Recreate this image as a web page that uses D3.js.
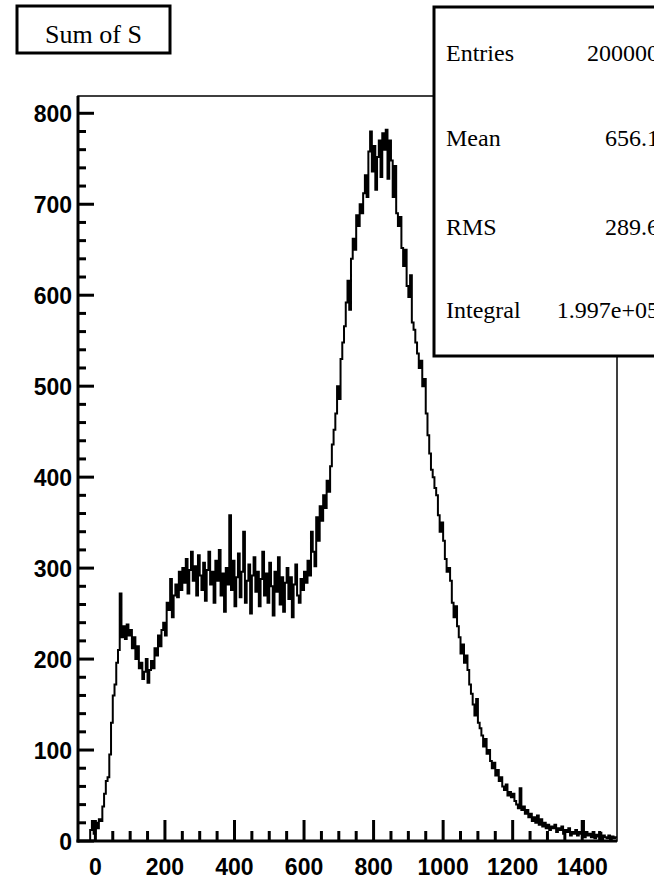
<!DOCTYPE html>
<html>
<head>
<meta charset="utf-8">
<script src="https://cdn.jsdelivr.net/npm/d3@7"></script>
<style>
  html, body { margin: 0; padding: 0; background: #fff; }
  svg { display: block; }
</style>
</head>
<body>
<script>
// ---- data ----
const titleText = "Sum of S";
const binLow = -50;
const binWidth = 5;
const counts = [
  0,0,0,0,0,0,0,12,22,8,
  20,14,24,22,38,52,66,70,95,130,
  160,172,196,210,272,224,236,222,238,226,
  232,212,224,200,214,190,196,178,186,200,
  174,188,198,190,212,204,226,214,232,240,
  226,262,254,288,246,270,282,268,296,276,
  300,284,310,272,298,318,286,302,270,314,
  292,276,306,264,298,318,282,296,262,308,
  286,320,270,294,252,300,282,358,276,308,
  258,290,316,268,296,340,262,286,304,250,
  292,312,274,296,258,288,318,270,294,262,
  306,280,248,296,274,312,260,290,252,284,
  300,266,290,246,282,304,270,262,288,276,
  296,284,308,292,340,318,302,356,330,368,
  352,380,366,396,384,412,436,452,470,500,
  486,530,548,566,592,616,584,640,662,650,
  688,676,700,690,712,732,708,758,780,736,
  764,716,752,770,730,778,760,782,728,770,
  748,708,742,690,676,686,652,632,650,610,
  598,622,570,562,548,536,520,528,500,508,
  470,446,426,408,400,388,380,358,340,350,
  330,310,296,300,286,262,246,258,236,224,
  206,216,196,204,188,172,162,150,138,156,
  130,124,116,104,112,96,100,88,80,86,
  72,78,66,70,60,56,62,50,54,48,
  52,44,40,36,58,34,38,30,34,26,
  30,22,26,20,28,18,24,16,20,14,
  18,12,16,14,18,10,14,12,16,8,
  12,10,14,6,10,8,12,6,10,8,
  22,4,10,6,8,4,10,3,7,5,
  9,2,6,4,3,6,2,5,3,4
];
const xDomain = [-50, 1500];
const yDomain = [0, 819];
const xMajorTicks = [0, 200, 400, 600, 800, 1000, 1200, 1400];
const xMinorTicks = [50, 100, 150, 250, 300, 350, 450, 500, 550, 650, 700, 750, 850, 900, 950, 1050, 1100, 1150, 1250, 1300, 1350, 1450];
const yMajorTicks = [0, 100, 200, 300, 400, 500, 600, 700, 800];
const yMinorTicks = [20, 40, 60, 80, 120, 140, 160, 180, 220, 240, 260, 280, 320, 340, 360, 380, 420, 440, 460, 480, 520, 540, 560, 580, 620, 640, 660, 680, 720, 740, 760, 780];
const statLabels = ["Entries", "Mean", "RMS", "Integral"];
const statValues = ["200000", "656.1", "289.6", "1.997e+05"];

// ---- layout ----
const W = 654, H = 881;
const plot = { left: 78, right: 617, top: 96, bottom: 841 };

const svg = d3.select("body").append("svg")
  .attr("width", W).attr("height", H);

const x = d3.scaleLinear().domain(xDomain).range([plot.left, plot.right]);
const y = d3.scaleLinear().domain(yDomain).range([plot.bottom, plot.top]);

// frame (thin top / right)
svg.append("rect")
  .attr("x", plot.left).attr("y", plot.top)
  .attr("width", plot.right - plot.left).attr("height", plot.bottom - plot.top)
  .attr("fill", "none").attr("stroke", "#000").attr("stroke-width", 1.5);

// histogram step outline
const pts = [];
counts.forEach((c, i) => {
  const x0 = binLow + i * binWidth;
  pts.push([x0, c]);
  pts.push([x0 + binWidth, c]);
});
const line = d3.line().x(d => x(d[0])).y(d => y(d[1]));
svg.append("path")
  .attr("d", line(pts))
  .attr("fill", "none")
  .attr("stroke", "#000")
  .attr("stroke-width", 2)
  .attr("stroke-linejoin", "miter");

// axes (thick)
const axisG = svg.append("g").attr("stroke", "#000").attr("stroke-width", 3);
axisG.append("line")
  .attr("x1", plot.left).attr("x2", plot.left)
  .attr("y1", plot.top).attr("y2", plot.bottom + 1.5);
axisG.append("line")
  .attr("x1", plot.left - 1.5).attr("x2", plot.right)
  .attr("y1", plot.bottom).attr("y2", plot.bottom);

// x ticks
axisG.selectAll(".xmaj").data(xMajorTicks).enter().append("line")
  .attr("x1", d => x(d)).attr("x2", d => x(d))
  .attr("y1", plot.bottom).attr("y2", plot.bottom - 21);
axisG.selectAll(".xmin").data(xMinorTicks).enter().append("line")
  .attr("x1", d => x(d)).attr("x2", d => x(d))
  .attr("y1", plot.bottom).attr("y2", plot.bottom - 10);
// y ticks
axisG.selectAll(".ymaj").data(yMajorTicks).enter().append("line")
  .attr("y1", d => y(d)).attr("y2", d => y(d))
  .attr("x1", plot.left).attr("x2", plot.left + 16);
axisG.selectAll(".ymin").data(yMinorTicks).enter().append("line")
  .attr("y1", d => y(d)).attr("y2", d => y(d))
  .attr("x1", plot.left).attr("x2", plot.left + 8);

// tick labels
const tickFont = "'Liberation Sans', Arial, Helvetica, sans-serif";
svg.selectAll(".xl").data(xMajorTicks).enter().append("text")
  .attr("x", d => x(d)).attr("y", 875)
  .attr("text-anchor", "middle")
  .attr("font-family", tickFont).attr("font-weight", "bold").attr("font-size", 23)
  .text(d => d);
svg.selectAll(".yl").data(yMajorTicks).enter().append("text")
  .attr("x", 72).attr("y", d => y(d) + 9)
  .attr("text-anchor", "end")
  .attr("font-family", tickFont).attr("font-weight", "bold").attr("font-size", 23)
  .text(d => d);

// stats box
const serif = "'Liberation Serif', 'Times New Roman', Times, serif";
svg.append("rect")
  .attr("x", 434).attr("y", 7).attr("width", 240).attr("height", 349)
  .attr("fill", "#fff").attr("stroke", "#000").attr("stroke-width", 3);
const statY = [61, 146, 235, 318];
statLabels.forEach((lab, i) => {
  svg.append("text").attr("x", 446).attr("y", statY[i])
    .attr("font-family", serif).attr("font-size", 24).text(lab);
  svg.append("text").attr("x", 659).attr("y", statY[i])
    .attr("text-anchor", "end")
    .attr("font-family", serif).attr("font-size", 24).text(statValues[i]);
});

// title box
svg.append("rect")
  .attr("x", 17).attr("y", 6).attr("width", 153).attr("height", 47)
  .attr("fill", "#fff").attr("stroke", "#000").attr("stroke-width", 3);
svg.append("text")
  .attr("x", 93.5).attr("y", 43)
  .attr("text-anchor", "middle")
  .attr("font-family", serif).attr("font-size", 26)
  .text(titleText);
</script>
</body>
</html>
